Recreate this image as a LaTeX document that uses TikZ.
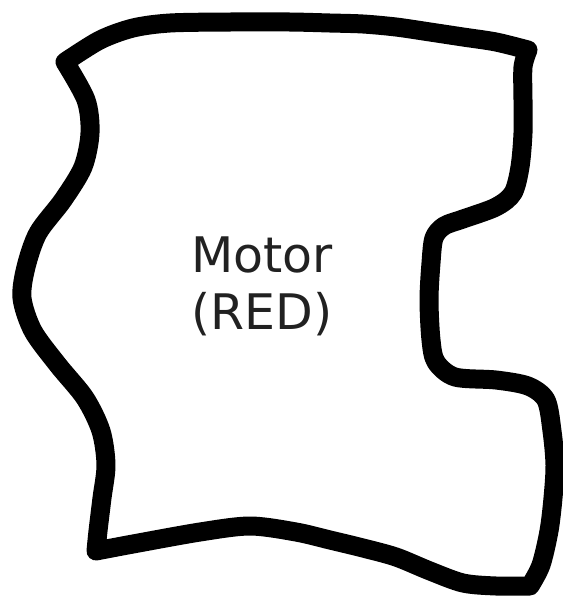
\documentclass[tikz,border=0pt]{standalone}
\usepackage{fontspec}
\setmainfont{DejaVu Sans}
\usepackage{tikz}
\tikzset{
  outline/.style = {draw=black, line width=19pt, line join=round, line cap=round},
  lbl/.style     = {align=center, text=black!87, font=\fontsize{49}{57}\selectfont},
}

\begin{document}
\begin{tikzpicture}[x=1pt, y=-1pt]
  \useasboundingbox (0,0) rectangle (563,598);
  % hand-drawn border, corner to corner
  \draw[outline]
    plot[smooth, tension=0.5] coordinates {(65,62) (100,40) (133,28) (170,23) (230,22) (290,22)
      (330,23) (363,24) (396,27) (430,32) (463,37) (496,42) (528,50)}
    -- plot[smooth, tension=0.5] coordinates {(528,50) (523,67) (523,100) (523,133) (520,167) (513,193)
      (496,207) (463,219) (444,226) (434,238) (431,263) (429,300) (431,340) (436,362)
      (455,377) (496,380) (528,386) (546,400) (552,431) (555,465) (553,498) (549,531)
      (541,565) (530,586)}
    -- plot[smooth, tension=0.5] coordinates {(530,586) (496,586) (463,583) (430,571) (396,557)
      (363,548) (330,540) (296,532) (250,526) (200,532) (133,544) (96,551)}
    -- plot[smooth, tension=0.5] coordinates {(96,551) (98,531) (102,498) (106,465) (101,431)
      (85,398) (58,365) (33,331) (22,298) (26,267) (38,233) (63,200) (83,167) (90,133)
      (86,100) (65,62)}
    -- cycle;
  % label
  \node[lbl] (motor) at (262,286) {Motor\\(RED)};
\end{tikzpicture}
\end{document}
